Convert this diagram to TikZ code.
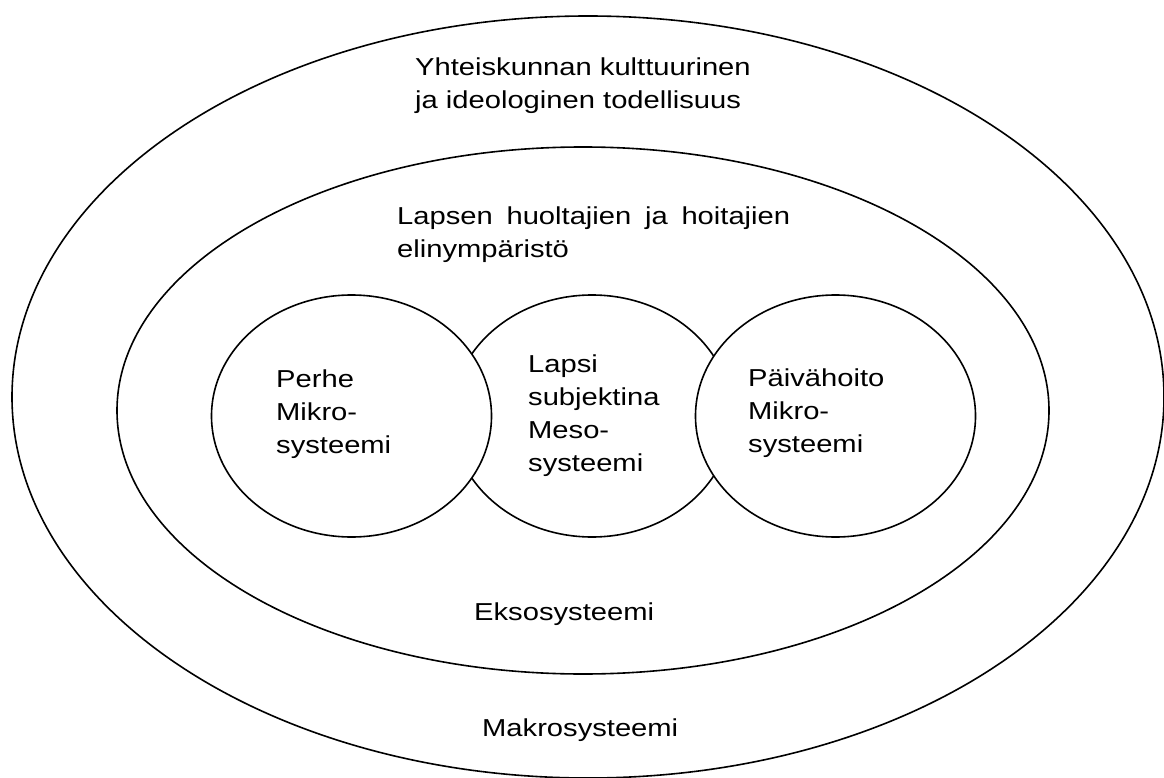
\documentclass[tikz,border=0pt]{standalone}
\usepackage{fontspec}
\setmainfont{Liberation Sans}[FakeStretch=1.19]
\usetikzlibrary{shapes.geometric}
\begin{document}
\begin{tikzpicture}[x=1pt,y=-1pt,
  ring/.style={draw, ellipse, line width=1.6pt, inner sep=0pt},
  inner/.style={ring, minimum width=280pt, minimum height=242pt},
  lbl/.style={anchor=base west, inner sep=0pt, align=left,
              font=\fontsize{24.5pt}{33pt}\selectfont}]
\useasboundingbox (0,0) rectangle (1164,778);
\node[ring, minimum width=1152pt, minimum height=762pt] (makro) at (588,397) {};
\node[ring, minimum width=932pt, minimum height=527pt] (ekso) at (583,410.5) {};
\node[inner] (meso) at (592,416) {};
\node[inner, fill=white] (perhe) at (351.5,416) {};
\node[inner, fill=white] (paiva) at (835.5,416) {};
% base anchor of a multi-line node sits on its last line
\node[lbl] (tmakro1) at (415,109) {Yhteiskunnan kulttuurinen\\ja ideologinen todellisuus};
\node[lbl] (tekso1) at (397,257) {\makebox[393pt][s]{Lapsen huoltajien ja hoitajien}\\elinympäristö};
\node[lbl] (tperhe) at (276,453) {Perhe\\Mikro-\\systeemi};
\node[lbl] (tmeso) at (528,471) {Lapsi\\subjektina\\Meso-\\systeemi};
\node[lbl] (tpaiva) at (748,452) {Päivähoito\\Mikro-\\systeemi};
\node[lbl] (tekso) at (474,620) {Eksosysteemi};
\node[lbl] (tmakro) at (482,736) {Makrosysteemi};
\end{tikzpicture}
\end{document}
